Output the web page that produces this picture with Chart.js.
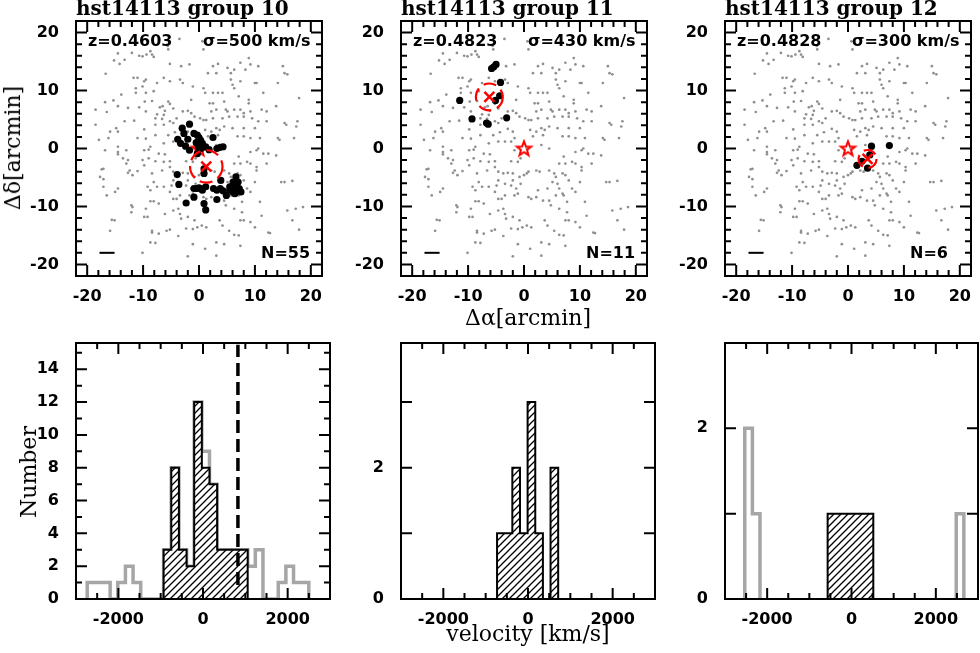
<!DOCTYPE html>
<html>
<head>
<meta charset="utf-8">
<script src="https://cdn.jsdelivr.net/npm/chart.js@4.4.1/dist/chart.umd.min.js"></script>
<style>
html, body { margin: 0; padding: 0; background: #fff; overflow: hidden; }
body { width: 980px; height: 653px; position: relative; }
canvas { position: absolute; }
.lab { position: absolute; font-family: "DejaVu Serif", serif; font-size: 22px; line-height: 1; white-space: nowrap; color: #000; transform: translate(-50%, -50%); }
.rot { transform: translate(-50%, -50%) rotate(-90deg); }
</style>
</head>
<body>
<canvas id="p1"></canvas>
<canvas id="p2"></canvas>
<canvas id="p3"></canvas>
<canvas id="p4"></canvas>
<canvas id="p5"></canvas>
<canvas id="p6"></canvas>
<div class="lab rot" style="left:13px; top:148px;">Δδ[arcmin]</div>
<div class="lab" style="left:528px; top:318px;">Δα[arcmin]</div>
<div class="lab rot" style="left:29px; top:472px;">Number</div>
<div class="lab" style="left:528px; top:634px;">velocity [km/s]</div>
<script>
// ---- data ----
// positions (arcmin) of all galaxies with redshifts in the field, same in every panel
const fieldPos = [
  [-5.6,17.7],[-5.5,17.1],[-14.5,16.4],[-9.4,16.2],[-10.1,15.9],[-8.4,16.2],[-8.1,15.8],[-10.7,16.0],[-15.2,15.2],[-14.2,14.6],
  [-5.2,14.6],[-3.2,14.2],[-1.7,14.5],[-16.7,12.9],[-11.7,12.2],[-11.0,12.2],[-10.1,10.7],[-9.8,11.6],[-9.5,11.9],[-6.3,12.2],
  [-7.5,11.3],[-5.2,11.6],[-3.4,11.9],[-2.9,11.3],[-1.1,10.7],[-11.3,10.4],[-11.3,9.6],[-9.5,9.6],[-8.1,9.9],[-13.9,9.3],
  [-15.3,8.3],[-16.8,8.0],[-9.7,8.1],[-8.4,8.2],[-5.5,8.1],[-5.2,7.7],[-6.5,7.3],[-7.0,7.1],[-1.4,8.4],[-14.5,7.3],
  [-12.7,7.0],[-10.7,7.1],[-6.1,6.5],[-4.6,6.9],[-2.9,6.4],[-2.0,6.5],[-1.4,6.1],[-18.5,6.7],[-16.5,6.3],[-9.5,6.4],
  [-7.5,5.9],[-6.3,5.8],[-7.8,5.2],[-6.6,5.1],[-4.0,5.2],[-13.3,4.7],[-11.6,4.8],[-5.2,4.7],[-4.6,4.4],[-0.8,5.5],
  [-18.5,4.1],[-14.8,3.5],[-15.9,2.9],[-7.8,4.1],[-6.3,4.1],[-2.9,3.4],[-2.0,2.9],[-14.5,2.9],[-9.8,3.3],[-4.3,2.8],
  [-5.5,2.3],[-1.7,1.8],[-17.9,1.5],[-16.2,1.8],[-11.0,1.8],[-9.5,1.7],[-7.8,2.3],[-2.3,1.2],[-14.5,0.3],[-8.7,0.3],
  [-6.3,0.9],[-4.6,1.2],[-3.4,1.2],[-3.5,18.9],[-8.7,16.8],[-13.3,15.3],[0.6,18.5],[-12.0,16.5],
  [0.8,17.1],[2.5,14.2],[3.4,14.6],[1.6,13.0],[3.1,13.0],[5.1,13.9],[5.7,13.0],[6.3,13.6],[7.4,14.8],[8.9,15.6],
  [9.2,14.5],[10.6,14.2],[8.3,13.6],[15.0,14.2],[15.3,13.0],[15.8,12.8],[5.7,11.9],[6.0,11.0],[7.4,11.6],[10.0,11.3],
  [10.3,11.3],[0.8,10.4],[1.1,9.6],[2.5,9.6],[3.4,9.6],[4.2,9.6],[6.3,10.4],[7.1,9.0],[8.9,8.4],[8.9,7.8],
  [11.5,9.6],[14.1,11.3],[17.9,8.7],[1.9,7.8],[2.5,7.8],[3.1,6.7],[2.2,6.4],[4.5,8.1],[4.8,6.7],[5.1,6.4],
  [6.3,6.7],[7.4,6.7],[8.0,6.1],[9.2,6.4],[11.2,6.7],[12.1,6.4],[13.8,7.3],[0.2,5.2],[0.8,4.9],[1.3,4.9],
  [2.5,5.2],[4.2,5.2],[5.4,5.5],[6.9,5.5],[8.0,5.5],[9.5,5.2],[10.6,4.7],[12.1,4.7],[15.3,4.4],[15.6,4.1],
  [17.6,4.7],[1.1,3.2],[2.2,2.9],[3.1,3.5],[3.7,3.2],[4.5,3.8],[6.0,3.5],[8.0,3.5],[10.0,3.5],[10.9,1.8],
  [14.1,1.8],[14.4,1.5],[17.0,1.8],[1.6,2.1],[3.4,2.3],[6.9,2.1],[8.0,2.1],[9.2,1.8],[3.1,0.6],[10.6,0.0],
  [0.5,0.0],[4.5,0.0],[17.4,3.8],
  [-16.8,-0.3],[-14.5,-0.6],[-13.0,-0.3],[-9.8,-0.3],[-9.0,-0.2],[-7.2,-0.9],[-6.1,-1.0],[-1.7,-0.3],[-14.5,-1.0],[-13.6,-1.7],
  [-12.7,-2.0],[-13.0,-2.6],[-10.1,-2.0],[-9.0,-1.7],[-7.8,-2.2],[-6.3,-2.3],[-5.2,-2.2],[-2.3,-2.2],[-1.1,-2.3],[-0.6,-1.7],
  [-17.1,-3.5],[-17.4,-3.6],[-12.4,-3.8],[-11.0,-3.9],[-11.9,-4.6],[-9.8,-2.9],[-8.4,-4.3],[-6.6,-3.8],[-5.2,-3.2],[-4.6,-4.0],
  [-3.7,-4.3],[-2.9,-4.2],[-2.0,-4.3],[-17.7,-4.9],[-17.1,-5.3],[-12.7,-4.2],[-0.8,-4.9],[0.0,-4.6],[-2.0,-5.5],[-3.4,-6.1],
  [-4.6,-5.5],[-4.9,-6.4],[-8.1,-5.8],[-7.5,-6.6],[-6.3,-6.6],[-9.2,-6.6],[-8.7,-7.2],[-14.5,-6.9],[-15.0,-7.5],[-16.5,-8.1],
  [-2.3,-6.4],[-1.4,-6.9],[-0.6,-6.1],[-5.2,-7.5],[-3.4,-8.1],[-1.7,-8.1],[-1.1,-7.8],[-4.6,-8.7],[-4.0,-8.7],[-8.7,-9.1],
  [-8.1,-9.1],[-7.2,-9.5],[-12.1,-9.8],[-11.9,-10.1],[-12.1,-11.0],[-9.5,-10.4],[-4.6,-10.7],[-3.7,-10.4],[-3.4,-11.3],[-6.1,-11.3],
  [-9.8,-11.8],[-9.2,-11.8],[-3.2,-12.1],[-2.0,-11.8],[-0.8,-12.4],[-15.6,-12.3],[-8.4,-14.2],[-8.4,-14.5],[-7.2,-14.7],[-5.8,-14.2],
  [-5.2,-14.0],[-3.7,-15.1],[-2.3,-13.8],[-1.1,-13.9],[-0.3,-13.6],[-15.9,-14.2],[-8.7,-16.2],[-7.8,-16.3],[-1.1,-16.5],[-10.1,-18.0],
  [-2.0,-18.6],[-17.1,-6.6],[-15.1,-12.4],
  [7.1,-1.4],[9.2,-0.6],[10.3,-0.3],[11.5,-0.9],[12.4,-0.9],[13.8,-1.2],[6.3,-2.6],[7.4,-2.6],[8.6,-2.3],[9.2,-2.6],
  [10.3,-3.2],[10.3,-3.8],[12.1,-2.6],[0.5,-4.3],[0.8,-4.0],[2.2,-3.8],[2.8,-4.0],[4.5,-3.8],[5.4,-4.3],[5.7,-4.9],
  [6.9,-4.3],[7.4,-4.6],[8.0,-5.5],[6.0,-6.1],[5.1,-5.8],[10.0,-5.8],[14.7,-5.8],[15.3,-5.8],[16.7,-5.6],[2.5,-7.2],
  [4.2,-6.9],[6.3,-6.9],[6.9,-7.8],[8.6,-6.9],[9.2,-7.5],[0.8,-8.4],[1.3,-8.7],[2.2,-8.4],[3.4,-9.0],[4.5,-9.0],
  [5.7,-8.1],[7.1,-8.1],[4.8,-9.8],[7.7,-9.2],[6.3,-10.4],[7.7,-11.0],[10.9,-9.2],[11.2,-11.6],[15.8,-10.7],[17.3,-10.4],
  [7.4,-12.4],[8.0,-12.4],[9.2,-12.7],[10.0,-13.6],[3.7,-12.4],[4.2,-13.3],[0.5,-13.3],[1.3,-13.6],[5.4,-14.2],[6.3,-14.9],
  [7.1,-15.0],[12.4,-14.5],[12.7,-14.6],[16.7,-12.4],[17.9,-14.0],[3.1,-16.2],[4.5,-16.5],[7.4,-16.8],[1.1,-17.3],[3.1,-18.5],
  [18.6,-10.1]
];

// group members (arcmin)
const g10Members = [
  [-3.0,3.5],[-2.7,2.6],[-1.7,4.2],[-3.8,1.6],[-3.3,0.9],[-2.0,1.6],[-1.7,-0.3],[-0.9,2.6],[-0.3,2.3],[0.0,1.9],
  [0.3,1.4],[0.6,0.9],[0.9,0.3],[-0.5,1.0],[-0.1,0.3],[0.4,0.0],[1.2,0.3],[2.5,1.9],[3.2,0.0],[3.8,0.2],
  [4.3,0.3],[0.9,-3.5],[0.9,-4.3],[-0.3,-0.9],[-3.9,-4.5],[-3.6,-6.2],[-0.9,-6.9],[-0.4,-6.9],[0.0,-6.8],[0.3,-6.9],
  [0.6,-7.2],[1.2,-6.6],[2.6,-6.9],[3.2,-7.2],[3.8,-6.9],[4.3,-7.3],[4.9,-8.1],[5.5,-7.2],[6.1,-7.5],[6.7,-6.6],
  [7.0,-5.8],[7.2,-6.9],[7.5,-7.5],[6.4,-7.8],[-0.9,-8.4],[-2.3,-9.4],[0.9,-9.5],[1.2,-10.6],[3.2,-8.8],[3.9,-5.5],
  [5.5,-6.6],[6.1,-5.8],[6.6,-4.9],[1.8,-0.2],[-2.4,0.4]
];
const g11Members = [
  [-5.8,13.8],[-5.4,14.1],[-5.0,14.5],[-4.2,11.4],[-4.35,9.1],[-5.1,8.3],[-11.5,8.3],[-9.3,5.1],[-6.7,4.4],[-6.4,4.2],[-3.1,5.3]
];
const g12Members = [[4.2,0.4],[7.4,0.5],[1.6,-2.9],[3.5,-3.4],[2.5,-2.2],[3.9,-1.1]];

const groupTitles = ['hst14113 group 10', 'hst14113 group 11', 'hst14113 group 12'];
const groupZ = ['0.4603', '0.4823', '0.4828'];
const groupSigma = [500, 430, 300];
const groupN = [55, 11, 6];
const groupCentre = [[1.3, -3.1], [-6.2, 8.9], [3.5, -1.8]];
const groupRadius = [2.9, 2.4, 1.6];   // arcmin
const scaleBar = [[-17.8, -18], [-15.1, -18]];

// velocity histograms, km/s
const binWidth = 180.5;
const g10AllStart = -2735;
const g10All = [1,1,1,0,1,2,1,0,0,0,3,8,3,2,12,9,7,3,3,3,3,2,3,0,0,1,2,1,1];
const g10MemStart = -930;
const g10Mem = [3,8,3,2,12,8,7,3,3,3,3];
const g10VelCut = 825;
const g11MemStart = -731;
const g11Mem = [1,1,2,1,3,1,0,2];
const g12MemStart = -566;
const g12Mem = [1,1,1,1,1,1];
const g12LowStart = -2531;
const g12Low = [2,1];
const g12HighStart = 2484;
const g12High = [1];
const histMax = [15.6, 3.9, 3.0];

const skyTicks = [-20, -10, 0, 10, 20];
const velTicks = [-2000, 0, 2000];

// ---- drawing ----
const RED = '#ff0000';
const tickFont = { family: 'DejaVu Sans', size: 16, weight: 'bold' };
const PAD_TOP = 24;

function range(a, b, s) {
  const out = [];
  for (let v = a; v <= b + 1e-9; v += s) out.push(v);
  return out;
}
const toXY = p => ({ x: p[0], y: p[1] });

function stepPoints(start, counts) {
  const pts = [{ x: start, y: 0 }];
  counts.forEach((c, i) => pts.push({ x: start + i * binWidth, y: c }));
  pts.push({ x: start + counts.length * binWidth, y: 0 });
  return pts;
}

// hollow five-pointed star marker
const star = document.createElement('canvas');
star.width = star.height = 20;
(function () {
  const c = star.getContext('2d');
  c.strokeStyle = RED; c.lineWidth = 2; c.lineJoin = 'miter';
  c.beginPath();
  for (let i = 0; i < 10; i++) {
    const r = i % 2 ? 3.2 : 7.6;
    const a = -Math.PI / 2 + i * Math.PI / 5;
    const px = 10 + r * Math.cos(a), py = 10.5 + r * Math.sin(a);
    i ? c.lineTo(px, py) : c.moveTo(px, py);
  }
  c.closePath(); c.stroke();
})();

// diagonal hatch
function hatch() {
  const p = document.createElement('canvas');
  p.width = p.height = 7;
  const c = p.getContext('2d');
  c.fillStyle = '#fff'; c.fillRect(0, 0, 7, 7);
  c.strokeStyle = '#000'; c.lineWidth = 1.3;
  c.beginPath();
  c.moveTo(-1, 8); c.lineTo(8, -1);
  c.moveTo(-1, 1); c.lineTo(1, -1);
  c.moveTo(6, 8); c.lineTo(8, 6);
  c.stroke();
  return document.createElement('canvas').getContext('2d').createPattern(p, 'repeat');
}

// box with inward ticks on four sides, plus panel texts
const framePlugin = {
  id: 'frame',
  afterDatasetsDraw(chart, args, o) {
    if (!o || !o.circle) return;
    const { ctx, scales: { x, y } } = chart;
    const cx = x.getPixelForValue(o.circle[0]), cy = y.getPixelForValue(o.circle[1]);
    const r = Math.abs(x.getPixelForValue(o.circle[2]) - x.getPixelForValue(0));
    ctx.save();
    ctx.strokeStyle = RED; ctx.lineWidth = 2.2;
    ctx.setLineDash([13, 6]);
    ctx.beginPath(); ctx.arc(cx, cy, r, 0, Math.PI * 2); ctx.stroke();
    ctx.restore();
  },
  afterDraw(chart, args, o) {
    if (!o || !o.xTicks) return;
    const { ctx, chartArea: a, scales: { x, y } } = chart;
    ctx.save();
    ctx.strokeStyle = '#000'; ctx.lineWidth = 2;
    ctx.beginPath();
    o.xTicks.forEach(([vals, len]) => vals.forEach(v => {
      const px = x.getPixelForValue(v);
      ctx.moveTo(px, a.bottom); ctx.lineTo(px, a.bottom - len);
      ctx.moveTo(px, a.top); ctx.lineTo(px, a.top + len);
    }));
    o.yTicks.forEach(([vals, len]) => vals.forEach(v => {
      const py = y.getPixelForValue(v);
      ctx.moveTo(a.left, py); ctx.lineTo(a.left + len, py);
      ctx.moveTo(a.right, py); ctx.lineTo(a.right - len, py);
    }));
    ctx.stroke();
    ctx.strokeRect(a.left, a.top, a.right - a.left, a.bottom - a.top);
    ctx.fillStyle = '#000';
    if (o.title) {
      ctx.font = 'bold 20px "DejaVu Serif"';
      ctx.textBaseline = 'alphabetic';
      ctx.fillText(o.title, a.left, a.top - 6);
    }
    if (o.notes) {
      ctx.font = 'bold 16px "DejaVu Sans"';
      ctx.textBaseline = 'middle';
      ctx.fillText(o.notes[0], a.left + 12, a.top + 21);
      ctx.fillText(o.notes[1], a.left + 127, a.top + 21);
      ctx.fillText(o.notes[2], a.left + 185, a.bottom - 22);
    }
    ctx.restore();
  }
};
Chart.register(framePlugin);

function place(id, L, T, W, H) {
  const cv = document.getElementById(id);
  cv.width = W + 64;
  cv.height = H + PAD_TOP + 32;
  cv.style.left = (L - 60) + 'px';
  cv.style.top = (T - PAD_TOP) + 'px';
  return cv;
}

function options(xMin, xMax, xLab, yMin, yMax, yLab, frame) {
  return {
    responsive: false, animation: false, devicePixelRatio: 1, events: [],
    layout: { padding: { top: PAD_TOP, right: 4, left: 0, bottom: 0 } },
    plugins: { legend: { display: false }, tooltip: { enabled: false }, frame: frame },
    scales: {
      x: {
        type: 'linear', min: xMin, max: xMax,
        grid: { display: false }, border: { display: false },
        afterBuildTicks: s => { s.ticks = xLab.map(v => ({ value: v })); },
        afterFit: s => { s.height = 32; },
        ticks: { font: tickFont, color: '#000', padding: 3, maxRotation: 0, autoSkip: false, callback: v => String(v) }
      },
      y: {
        type: 'linear', min: yMin, max: yMax,
        grid: { display: false }, border: { display: false },
        afterBuildTicks: s => { s.ticks = yLab.map(v => ({ value: v })); },
        afterFit: s => { s.width = 60; },
        ticks: { font: tickFont, color: '#000', padding: 9, autoSkip: false, callback: v => String(v) }
      }
    }
  };
}

function skyPanel(id, i, members, L) {
  const cv = place(id, L, 21, 253, 255);
  new Chart(cv, {
    type: 'scatter',
    data: {
      datasets: [
        { data: [toXY(groupCentre[i])], pointStyle: 'crossRot', pointRadius: 7, borderColor: RED, borderWidth: 2.5 },
        { data: members.map(toXY), pointRadius: 3.6, backgroundColor: '#000', borderWidth: 0 },
        { data: [{ x: 0, y: 0 }], pointStyle: star, pointRadius: 10 },
        { data: scaleBar.map(toXY), showLine: true, borderColor: '#000', borderWidth: 2, pointRadius: 0 },
        { data: fieldPos.map(toXY), pointRadius: 1.35, backgroundColor: '#8f8f8f', borderWidth: 0 }
      ]
    },
    options: options(-22, 22, skyTicks, -22, 22, skyTicks, {
      xTicks: [[skyTicks, 11], [range(-20, 20, 2), 6]],
      yTicks: [[skyTicks, 11], [range(-20, 20, 2), 6]],
      title: groupTitles[i],
      notes: ['z=' + groupZ[i], 'σ=' + groupSigma[i] + ' km/s', 'N=' + groupN[i]],
      circle: [groupCentre[i][0], groupCentre[i][1], groupRadius[i]]
    })
  });
}

function histPanel(id, L, W, datasets, yMax, yLab, yMajor, yMinor) {
  const cv = place(id, L, 343, W, 256);
  new Chart(cv, {
    type: 'line',
    data: { datasets: datasets },
    options: options(-3000, 3000, velTicks, 0, yMax, yLab, {
      xTicks: [[velTicks, 11], [range(-3000, 3000, 500), 6]],
      yTicks: [[yMajor, 11], [yMinor, 6]]
    })
  });
}

const memberLine = (start, counts) => ({
  data: stepPoints(start, counts), stepped: true, borderColor: '#000', borderWidth: 2,
  borderJoinStyle: 'miter', pointRadius: 0, fill: 'origin', backgroundColor: hatch()
});
const allLine = (start, counts) => ({
  data: stepPoints(start, counts), stepped: true, borderColor: '#a6a6a6', borderWidth: 3.5,
  borderJoinStyle: 'miter', pointRadius: 0, fill: false
});

skyPanel('p1', 0, g10Members, 76);
skyPanel('p2', 1, g11Members, 401);
skyPanel('p3', 2, g12Members, 725);

histPanel('p4', 76, 254, [
  { data: [{ x: g10VelCut, y: 0.85 }, { x: g10VelCut, y: 15.5 }], borderColor: '#000', borderWidth: 3.5,
    borderDash: [13, 6], pointRadius: 0, fill: false },
  memberLine(g10MemStart, g10Mem),
  allLine(g10AllStart, g10All)
], histMax[0], range(0, 14, 2), range(0, 14, 2), range(1, 15, 1));

histPanel('p5', 401, 254, [
  memberLine(g11MemStart, g11Mem)
], histMax[1], [0, 2], [1, 2, 3], []);

histPanel('p6', 725, 253, [
  memberLine(g12MemStart, g12Mem),
  allLine(g12LowStart, g12Low),
  allLine(g12HighStart, g12High)
], histMax[2], [0, 2], [1, 2], []);
</script>
</body>
</html>
